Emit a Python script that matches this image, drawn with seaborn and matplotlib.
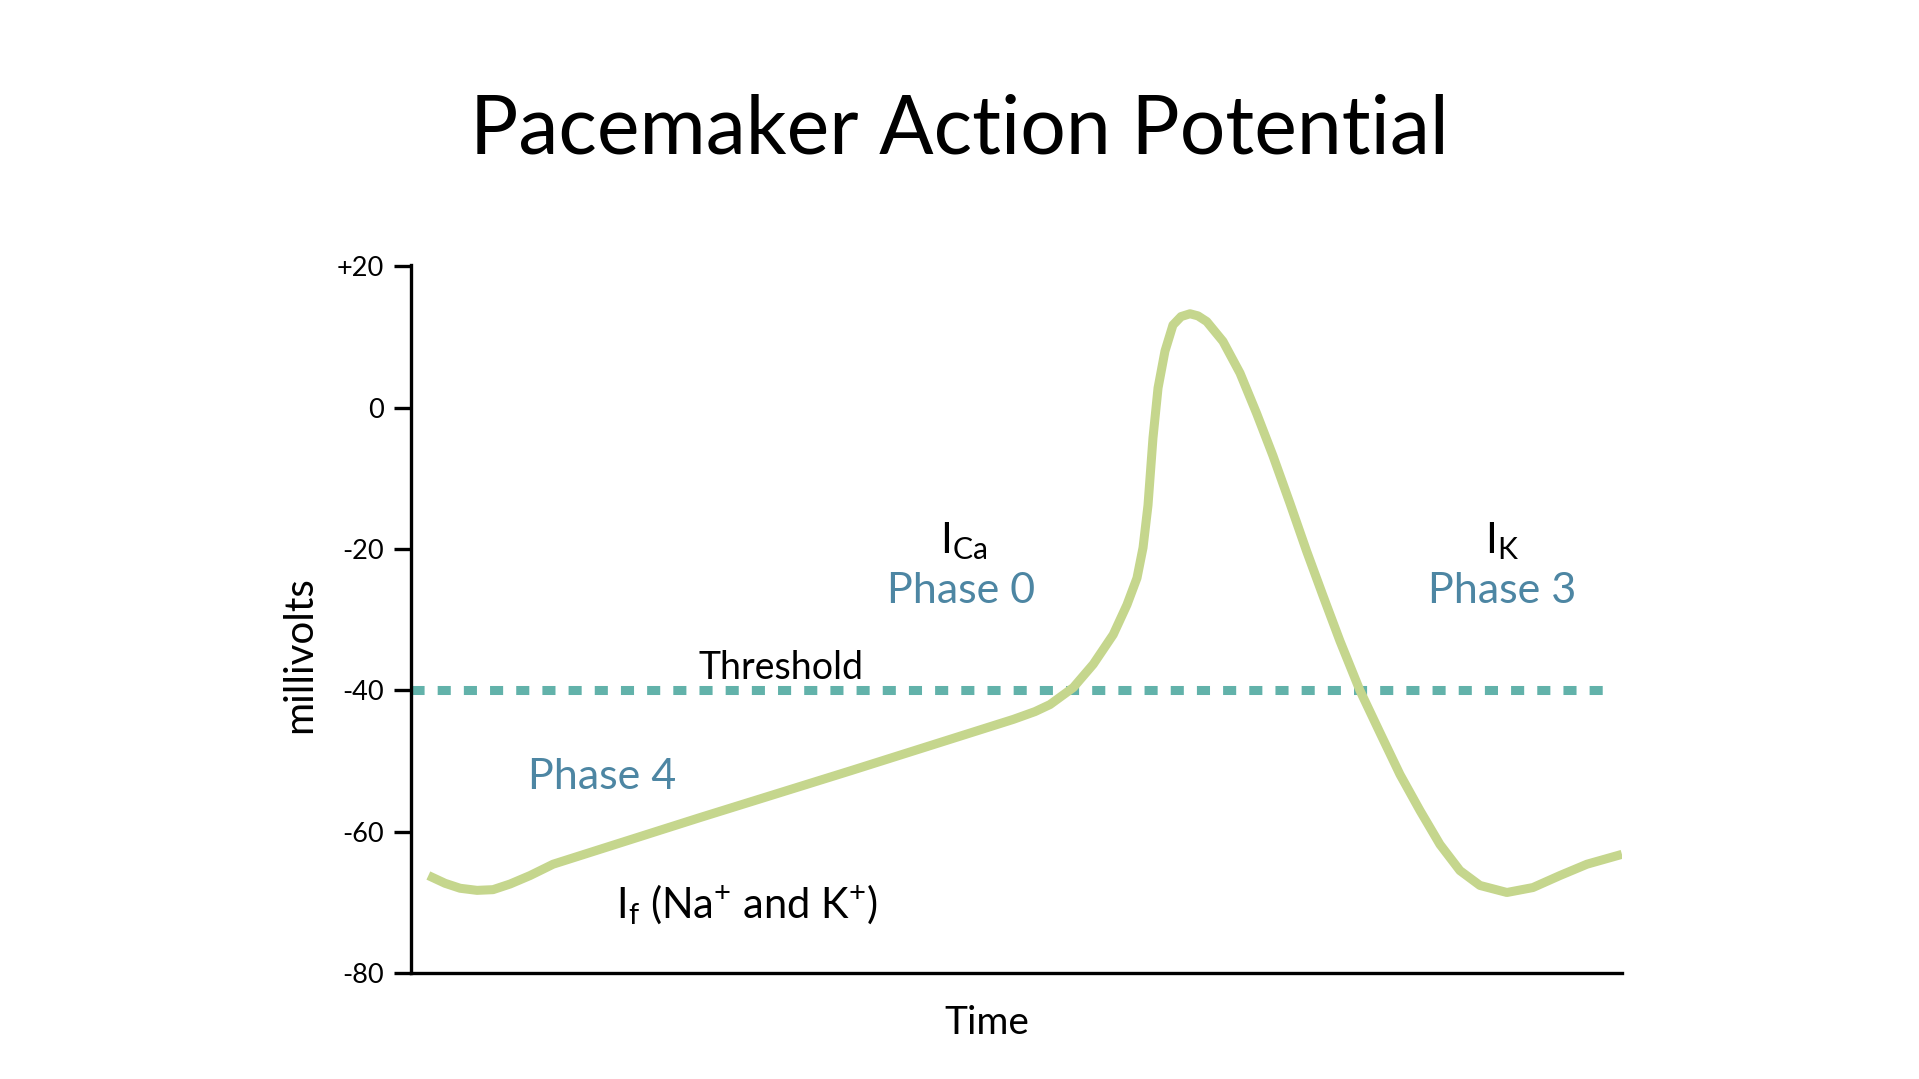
import pandas as pd
import matplotlib
matplotlib.use("Agg")
import matplotlib.pyplot as plt
import seaborn as sns

# ----------------------------------
# Data (time in arbitrary units, membrane potential in mV)
# ----------------------------------
time_pts = [1.43, 2.81, 4.05, 5.45, 6.77, 8.18, 9.83, 11.73, 23.86, 36.25,
            49.74, 51.53, 52.77, 54.69, 56.34, 57.99, 59.12, 59.95, 60.45,
            60.86, 61.27, 61.69, 62.26, 62.92, 63.59, 64.33, 64.99, 65.71,
            67.05, 68.46, 69.83, 71.18, 72.58, 73.96, 75.31, 76.71, 78.36,
            80.02, 81.67, 83.32, 84.97, 86.62, 88.27, 90.50, 92.65, 94.88,
            97.11, 100.0]
millivolts = [-66.2, -67.3, -68.0, -68.3, -68.2, -67.4, -66.2, -64.6, -58.0,
              -51.4, -44.1, -43.0, -42.0, -39.6, -36.3, -32.1, -27.9, -24.1,
              -19.8, -13.8, -4.3, 2.8, 8.0, 11.7, 12.9, 13.3, 13.0, 12.2, 9.4,
              4.9, -0.8, -6.8, -13.5, -20.3, -26.6, -33.0, -40.0, -46.0,
              -51.9, -57.0, -61.8, -65.5, -67.6, -68.6, -67.9, -66.2, -64.6,
              -63.2]

threshold_x = [0, 99.15]
threshold_mv = [-40, -40]

y_ticks = [20, 0, -20, -40, -60, -80]
y_tick_labels = ["+20", "0", "-20", "-40", "-60", "-80"]

GREEN = "#c5d68d"
TEAL = "#62b2aa"
BLUE = "#4d86a3"

# ----------------------------------
# Style
# ----------------------------------
sns.set_style("ticks")
plt.rcParams["font.family"] = ["Lato", "DejaVu Sans"]
plt.rcParams["mathtext.default"] = "regular"

fig = plt.figure(figsize=(19.19, 10.79), dpi=100)
ax = fig.add_axes([0.2142, 0.0982, 0.6310, 0.6562])

df = pd.DataFrame({"time": time_pts, "mv": millivolts})
thr = pd.DataFrame({"time": threshold_x, "mv": threshold_mv})

sns.lineplot(data=thr, x="time", y="mv", ax=ax, color=TEAL, linewidth=6.5,
             linestyle=(0, (1.45, 1.45)))
sns.lineplot(data=df, x="time", y="mv", ax=ax, color=GREEN, linewidth=6.5,
             sort=False, solid_capstyle="butt", solid_joinstyle="round")

ax.set_xlim(0, 100)
ax.set_ylim(-80, 20.2)
ax.set_xticks([])
ax.set_yticks(y_ticks)
ax.set_yticklabels(y_tick_labels, fontsize=19.5)
ax.tick_params(axis="y", length=12, width=2.4, pad=7.5, direction="out",
               colors="black")
ax.set_xlabel("")
ax.set_ylabel("")
sns.despine(ax=ax)
for side in ["left", "bottom"]:
    ax.spines[side].set_linewidth(2.4)
    ax.spines[side].set_color("black")

# ----------------------------------
# Labels
# ----------------------------------
fig.text(0.5, 0.879, "Pacemaker Action Potential", fontsize=58,
         ha="center", va="center", color="black")
fig.text(0.156, 0.393, "millivolts", fontsize=29, rotation=90,
         ha="center", va="center", color="black")
fig.text(0.514, 0.052, "Time", fontsize=28, ha="center", va="center",
         color="black")
fig.text(0.407, 0.381, "Threshold", fontsize=27, ha="center", va="center",
         color="black")

fig.text(0.502, 0.498, "I$_{Ca}$", fontsize=31, ha="center", va="center",
         color="black")
fig.text(0.501, 0.452, "Phase 0", fontsize=31, color=BLUE,
         ha="center", va="center")
fig.text(0.783, 0.498, "I$_{K}$", fontsize=31, ha="center", va="center",
         color="black")
fig.text(0.783, 0.452, "Phase 3", fontsize=31, color=BLUE,
         ha="center", va="center")
fig.text(0.314, 0.280, "Phase 4", fontsize=31, color=BLUE,
         ha="center", va="center")
fig.text(0.389, 0.161, "I$_{f}$ (Na$^{+}$ and K$^{+}$)", fontsize=30,
         ha="center", va="center", color="black")

fig.savefig("out.png", dpi=100, facecolor="white")
